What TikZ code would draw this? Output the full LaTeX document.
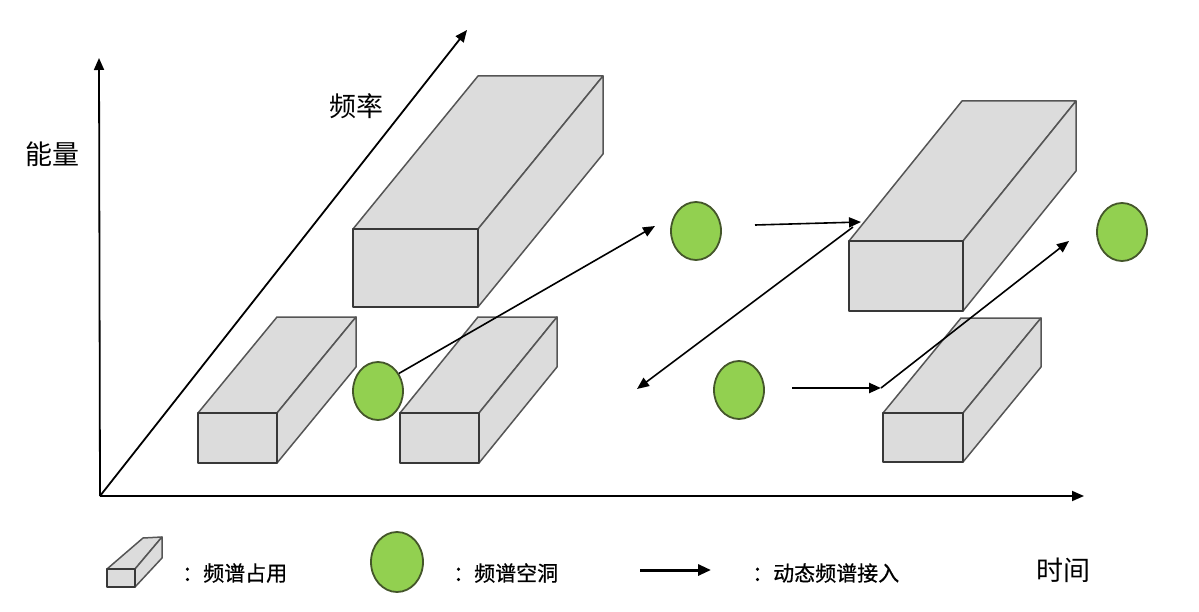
\documentclass[tikz,border=0pt]{standalone}
\usepackage{fontspec}
\newfontfamily\cjk{Noto Sans CJK SC}
\newfontfamily\cjkleg[FakeBold=0.6]{Noto Sans CJK SC}
\usetikzlibrary{arrows.meta,shapes.geometric}
\definecolor{boxfill}{HTML}{DCDCDC}
\definecolor{boxedge}{HTML}{555555}
\definecolor{boxfrontedge}{HTML}{383838}
\definecolor{holefill}{HTML}{92D050}
\definecolor{holeedge}{HTML}{44562A}
\tikzset{
  boxface/.style={fill=boxfill,draw=boxedge,line width=1.5pt,line join=round},
  boxfront/.style={fill=boxfill,draw=boxfrontedge,line width=2pt,line join=round},
  hole/.style={ellipse,fill=holefill,draw=holeedge,line width=1.8pt,inner sep=0pt,minimum width=50pt,minimum height=58pt},
  axis/.style={line width=1.8pt,-{Triangle[length=12pt,width=10pt]}},
  access/.style={line width=1.6pt,-{Triangle[length=12pt,width=10pt]}},
  lbl/.style={font=\cjk\fontsize{27}{30}\selectfont,inner sep=0pt},
  legtxt/.style={font=\cjkleg\fontsize{21}{25}\selectfont,inner sep=0pt,anchor=west},
}
% front rectangle (x1,y1)-(x2,y2), depth offset (dx,dy)
\newcommand\specbox[6]{%
  \filldraw[boxface] (#1,#2) -- ({#1+(#5)},{#2+(#6)}) -- ({#3+(#5)},{#2+(#6)}) -- (#3,#2) -- cycle;
  \filldraw[boxface] (#3,#2) -- ({#3+(#5)},{#2+(#6)}) -- ({#3+(#5)},{#4+(#6)}) -- (#3,#4) -- cycle;
  \filldraw[boxfront] (#1,#2) rectangle (#3,#4);
}
\begin{document}
\begin{tikzpicture}[x=1pt,y=-1pt]
\useasboundingbox (0,0) rectangle (1199,612);
% axes
\coordinate (O) at (100,496);
\coordinate (Etop) at (99,58);
\coordinate (Fend) at (467,30);
\coordinate (Tend) at (1084,496);
\draw[axis] (O) -- (Etop);
\draw[axis] (O) -- (Fend);
\draw[axis] (O) -- (Tend);
\node[lbl] (energy) at (52,154) {能量};
\node[lbl] (freq) at (356,106) {频率};
\node[lbl] (time) at (1063,570) {时间};
% occupied spectrum blocks
\specbox{353}{229}{478}{307}{125}{-153}
\specbox{198}{413}{277}{463}{79}{-96}
\specbox{400}{413}{479}{463}{78}{-96}
\specbox{849}{241}{963}{311}{113}{-140}
\specbox{883}{413}{963}{462}{78}{-95}
% spectrum holes
\node[hole] (h1) at (378,391) {};
\node[hole] (h2) at (696,231) {};
\node[hole] (h3) at (739,390) {};
\node[hole] (h4) at (1122,232) {};
% dynamic access arrows
\coordinate (a1end) at (655,226);
\coordinate (a2start) at (755,225);
\coordinate (a2end) at (861,222);
\coordinate (a3start) at (853,227);
\coordinate (a3end) at (637,389);
\coordinate (a4start) at (792,388);
\coordinate (a4end) at (881,388);
\coordinate (a5end) at (1069,241);
\draw[access] (h1.40) -- (a1end);
\draw[access] (a2start) -- (a2end);
\draw[access] (a3start) -- (a3end);
\draw[access,line width=2.4pt] (a4start) -- (a4end);
\draw[access] (a4end) -- (a5end);
% legend
\filldraw[boxface] (107,569) -- (143,538) -- (162,537) -- (135,569) -- cycle;
\filldraw[boxface] (135,569) -- (162,537) -- (162,558) -- (135,587) -- cycle;
\filldraw[boxfront] (107,569) rectangle (135,587);
\node[legtxt] (leg1) at (182,573) {：频谱占用};
\node[hole,minimum width=52pt,minimum height=60pt] (leghole) at (397,562) {};
\node[legtxt] (leg2) at (453,573) {：频谱空洞};
\coordinate (legA) at (640,570);
\coordinate (legB) at (711,570);
\draw[line width=3pt,-{Triangle[length=13pt,width=11pt]}] (legA) -- (legB);
\node[legtxt] (leg3) at (752,573) {：动态频谱接入};
\end{tikzpicture}
\end{document}
